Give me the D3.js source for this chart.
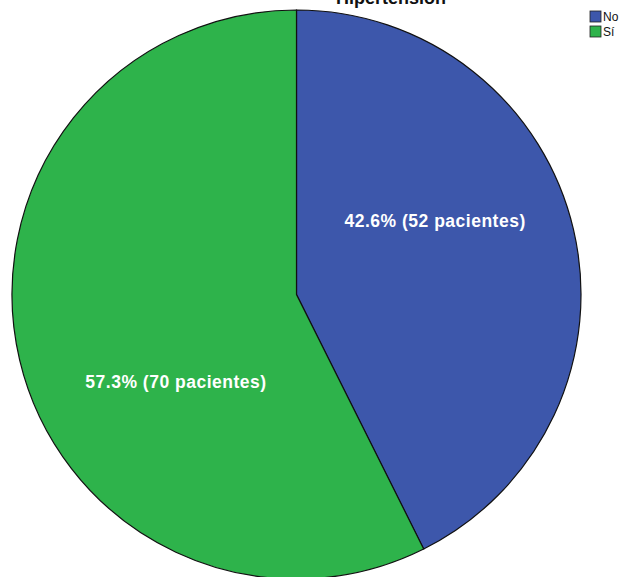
<!DOCTYPE html>
<html><head><meta charset="utf-8">
<script src="https://cdn.jsdelivr.net/npm/d3@7"></script>
<style>html,body{margin:0;padding:0;background:#fff;}svg{display:block;}</style>
</head><body>
<script>
const categories = ["No", "Sí"];
const counts = [52, 70];
const percentLabels = ["42.6%", "57.3%"];
const colors = ["#3d57ab", "#2eb34b"];
const title = "Hipertensión";

const W = 621, H = 577;
const cx = 296.5, cy = 294.5, R = 284.5;
const svg = d3.select("body").append("svg").attr("width", W).attr("height", H);

const pie = d3.pie().value(d => d).sort(null);
const arcs = pie(counts);
const arc = d3.arc().innerRadius(0).outerRadius(R);

const g = svg.append("g").attr("transform", `translate(${cx},${cy})`);
g.selectAll("path").data(arcs).join("path")
  .attr("d", arc)
  .attr("fill", (d, i) => colors[i])
  .attr("stroke", "#111")
  .attr("stroke-width", 1.2);

// label placement: polar offsets (layout)
const labelAng = [62, 234]; // degrees clockwise from top
const labelRad = [157, 149];
g.selectAll("text.lbl").data(arcs).join("text")
  .attr("class", "lbl")
  .attr("x", (d, i) => labelRad[i] * Math.sin(labelAng[i] * Math.PI / 180))
  .attr("y", (d, i) => -labelRad[i] * Math.cos(labelAng[i] * Math.PI / 180))
  .attr("dy", "0.35em")
  .attr("text-anchor", "middle")
  .attr("fill", "#fff")
  .attr("font-family", "Liberation Sans, Arial, sans-serif")
  .attr("font-weight", "bold")
  .attr("font-size", 17.5)
  .attr("letter-spacing", 0.5)
  .text((d, i) => `${percentLabels[i]} (${counts[i]} pacientes)`);

svg.append("text")
  .attr("x", 391).attr("y", 4)
  .attr("text-anchor", "middle")
  .attr("font-family", "Liberation Sans, Arial, sans-serif")
  .attr("font-weight", "bold")
  .attr("font-size", 18)
  .attr("fill", "#111")
  .text(title);

const leg = svg.append("g").attr("transform", "translate(590,11)");
categories.forEach((c, i) => {
  leg.append("rect").attr("x", 0).attr("y", i * 15).attr("width", 11).attr("height", 11)
    .attr("fill", colors[i]).attr("stroke", "#222").attr("stroke-width", 0.8);
  leg.append("text").attr("x", 13).attr("y", i * 15 + 10)
    .attr("font-family", "Liberation Sans, Arial, sans-serif")
    .attr("font-size", 12).attr("fill", "#111").text(c);
});
</script>
</body></html>
